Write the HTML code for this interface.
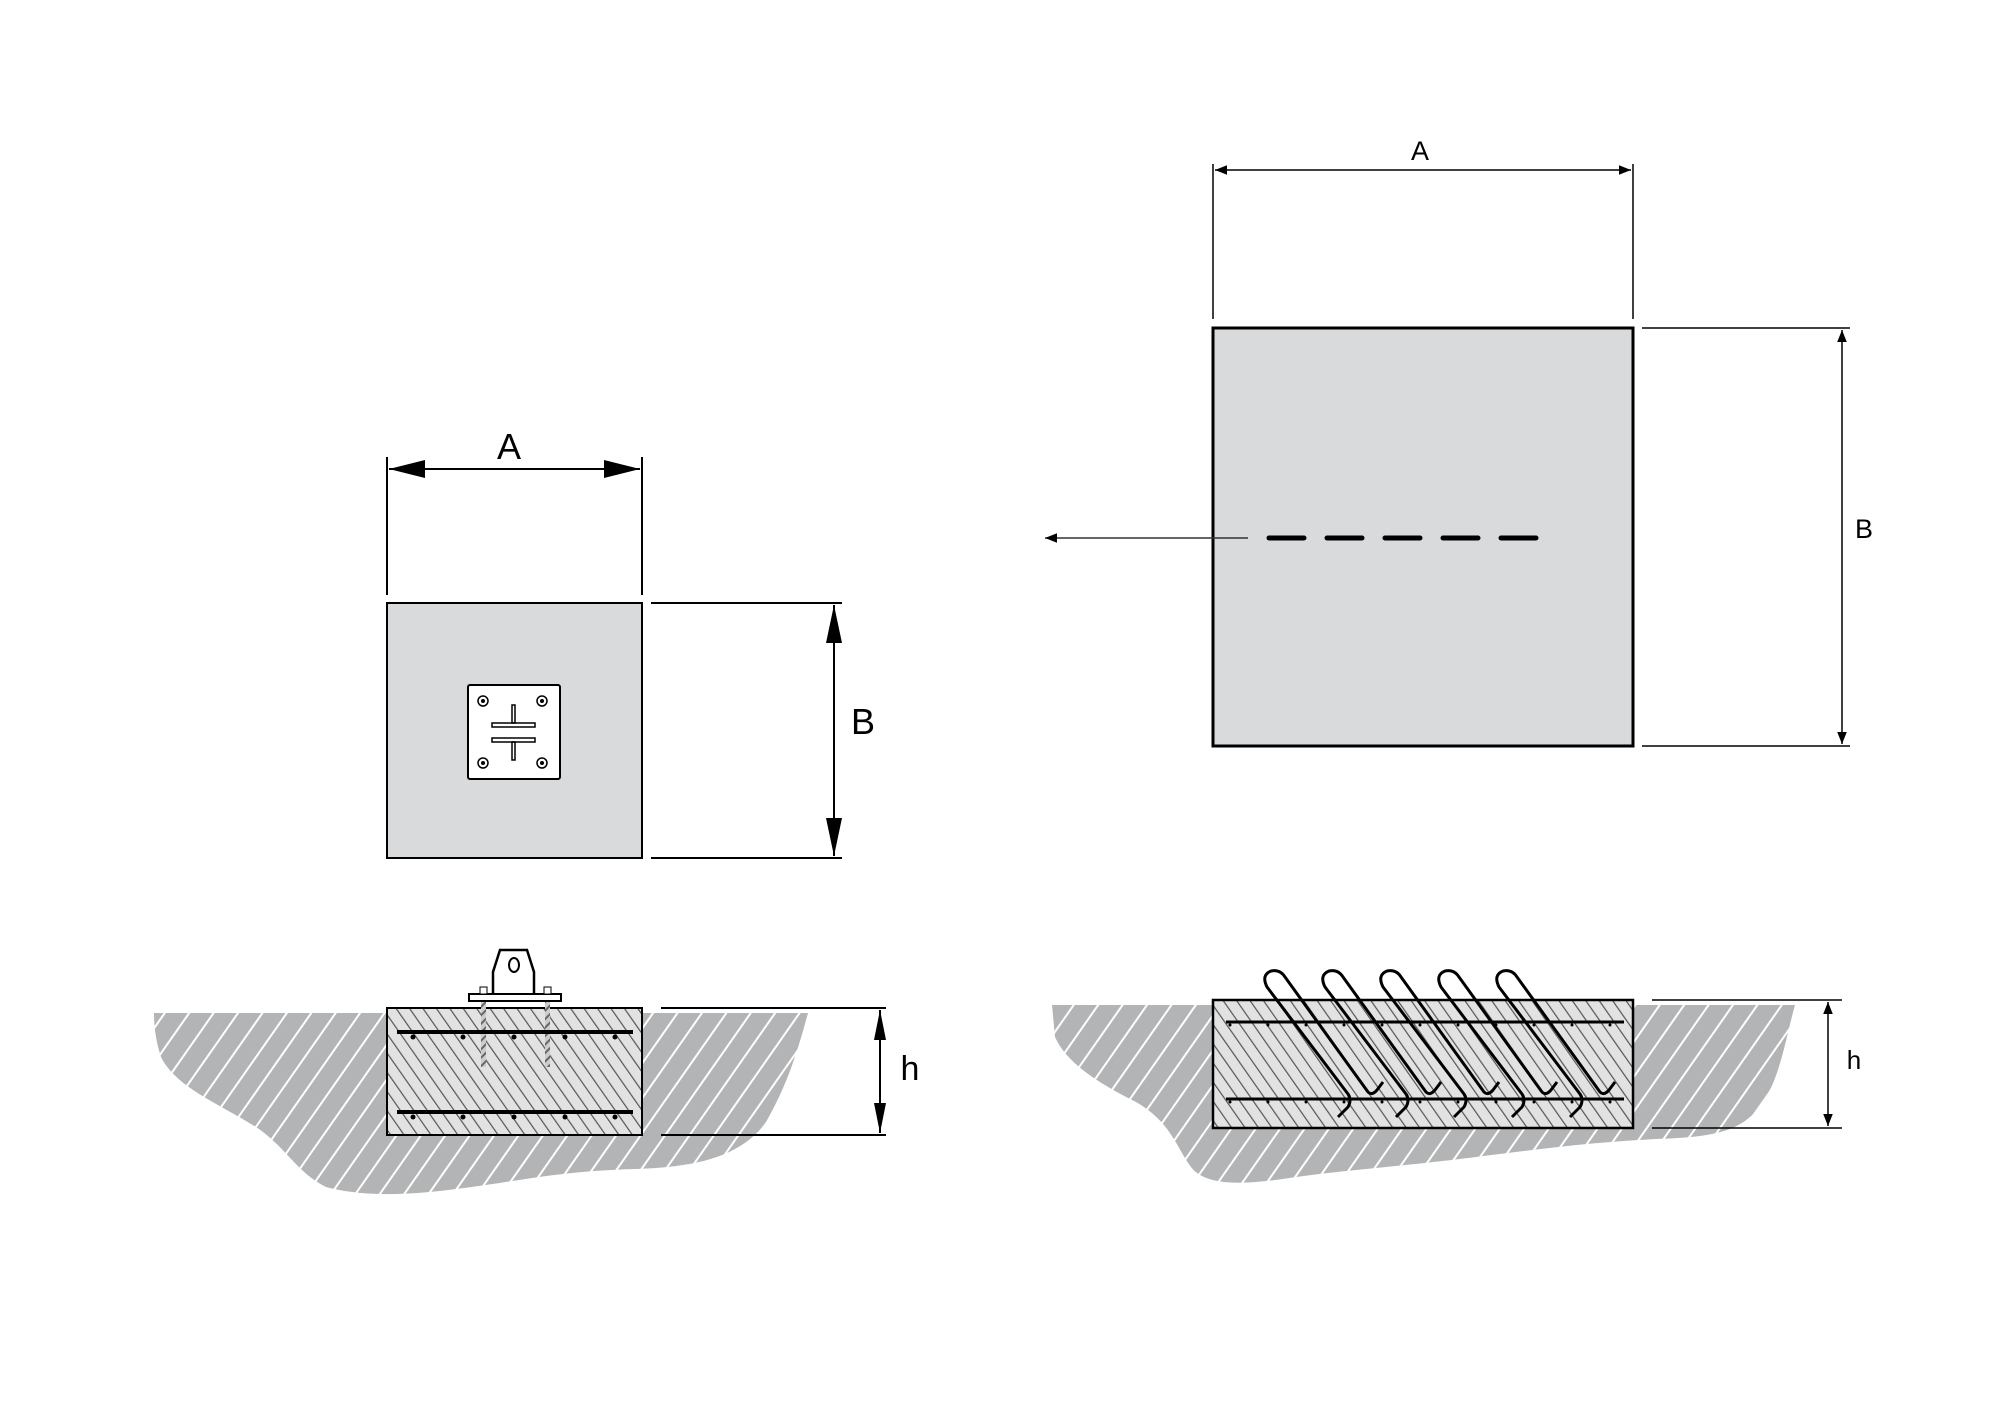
<!DOCTYPE html>
<html><head><meta charset="utf-8"><style>html,body{margin:0;padding:0;background:#fff}svg{display:block}</style></head>
<body>
<svg width="2000" height="1407" viewBox="0 0 2000 1407" xmlns="http://www.w3.org/2000/svg" font-family="Liberation Sans, sans-serif">
<defs>
<pattern id="gh" patternUnits="userSpaceOnUse" width="20" height="20" patternTransform="rotate(35)">
<rect width="20" height="20" fill="#b3b4b5"/><rect x="0" width="2" height="20" fill="#fff"/></pattern>
<pattern id="bh" patternUnits="userSpaceOnUse" width="11" height="11" patternTransform="rotate(-35)">
<rect width="11" height="11" fill="#e2e2e2"/><rect x="0" width="1.2" height="11" fill="#555"/></pattern>
<pattern id="bolt" patternUnits="userSpaceOnUse" width="6" height="6" patternTransform="rotate(45)">
<rect width="6" height="6" fill="#ccc"/><rect width="2" height="6" fill="#666"/></pattern>
<marker id="ar" viewBox="0 0 10 10" refX="10" refY="5" markerWidth="12" markerHeight="12" markerUnits="userSpaceOnUse" orient="auto-start-reverse"><path d="M0,1 L10,5 L0,9z" fill="#000"/></marker>
</defs>
<g transform="translate(-4,-3)">
<!-- Left top view -->
<rect x="391" y="606" width="255" height="255" fill="#d9dadc" stroke="#000" stroke-width="2"/>
<line x1="391" y1="460" x2="391" y2="598" stroke="#000" stroke-width="2"/>
<line x1="646" y1="460" x2="646" y2="598" stroke="#000" stroke-width="2"/>
<line x1="393" y1="472" x2="644" y2="472" stroke="#000" stroke-width="2"/>
<path d="M393,472 l36,-9 v18z M644,472 l-36,-9 v18z" fill="#000"/>
<text x="513" y="462" font-size="36" text-anchor="middle">A</text>
<line x1="655" y1="606" x2="846" y2="606" stroke="#000" stroke-width="2"/>
<line x1="655" y1="861" x2="846" y2="861" stroke="#000" stroke-width="2"/>
<line x1="838" y1="608" x2="838" y2="859" stroke="#000" stroke-width="2"/>
<path d="M838,608 l-8,38 h16z M838,859 l-8,-38 h16z" fill="#000"/>
<text x="867" y="737" font-size="36" text-anchor="middle">B</text>
<!-- plate -->
<g transform="translate(0,-16)">
<rect x="472" y="704" width="92" height="94" rx="2" fill="#fff" stroke="#000" stroke-width="2"/>
<g fill="none" stroke="#000" stroke-width="1.5">
<circle cx="487" cy="720" r="5"/><circle cx="546" cy="720" r="5"/><circle cx="487" cy="782" r="5"/><circle cx="546" cy="782" r="5"/>
<rect x="496" y="742" width="43" height="4"/><rect x="496" y="757" width="43" height="4"/>
<rect x="516" y="724" width="3" height="18"/><rect x="516" y="761" width="3" height="18"/>
</g>
<g fill="#000"><circle cx="487" cy="720" r="2"/><circle cx="546" cy="720" r="2"/><circle cx="487" cy="782" r="2"/><circle cx="546" cy="782" r="2"/></g>
</g>

<!-- Right top view -->
<rect x="1217" y="331" width="420" height="418" fill="#d9dadc" stroke="#000" stroke-width="3"/>
<line x1="1217" y1="167" x2="1217" y2="322" stroke="#000" stroke-width="1.5"/>
<line x1="1637" y1="167" x2="1637" y2="322" stroke="#000" stroke-width="1.5"/>
<line x1="1219" y1="173" x2="1635" y2="173" stroke="#000" stroke-width="1.5" marker-start="url(#ar)" marker-end="url(#ar)"/>
<text x="1424" y="163" font-size="27" text-anchor="middle">A</text>
<line x1="1646" y1="331" x2="1854" y2="331" stroke="#000" stroke-width="1.5"/>
<line x1="1646" y1="749" x2="1854" y2="749" stroke="#000" stroke-width="1.5"/>
<line x1="1846" y1="333" x2="1846" y2="747" stroke="#000" stroke-width="1.5" marker-start="url(#ar)" marker-end="url(#ar)"/>
<text x="1868" y="541" font-size="27" text-anchor="middle">B</text>
<line x1="1252" y1="541" x2="1049" y2="541" stroke="#333" stroke-width="1.5" marker-end="url(#ar)"/>
<line x1="1273" y1="541" x2="1542" y2="541" stroke="#000" stroke-width="5" stroke-dasharray="35 23" stroke-linecap="round"/>

<!-- Bottom left section -->
<path d="M158,1016 L812,1016 C800,1060 790,1090 770,1125 C745,1160 700,1170 640,1172 C560,1174 520,1185 460,1192 C400,1200 360,1198 330,1190 C300,1175 290,1150 260,1130 C220,1105 180,1090 165,1060 C160,1045 158,1030 158,1016Z" fill="url(#gh)"/>
<rect x="391" y="1011" width="255" height="127" fill="url(#bh)" stroke="#000" stroke-width="2"/>
<rect x="485" y="1003" width="5" height="67" fill="url(#bolt)"/>
<rect x="549" y="1003" width="5" height="67" fill="url(#bolt)"/>
<line x1="401" y1="1035" x2="637" y2="1035" stroke="#000" stroke-width="4"/>
<line x1="401" y1="1115" x2="637" y2="1115" stroke="#000" stroke-width="4"/>
<g fill="#000"><circle cx="417" cy="1040" r="2.5"/><circle cx="467" cy="1040" r="2.5"/><circle cx="518" cy="1040" r="2.5"/><circle cx="569" cy="1040" r="2.5"/><circle cx="619" cy="1040" r="2.5"/>
<circle cx="417" cy="1120" r="2.5"/><circle cx="467" cy="1120" r="2.5"/><circle cx="518" cy="1120" r="2.5"/><circle cx="569" cy="1120" r="2.5"/><circle cx="619" cy="1120" r="2.5"/></g>
<rect x="473" y="997" width="92" height="7" fill="#fff" stroke="#000" stroke-width="2"/>
<rect x="484" y="990" width="7" height="7" fill="#fff" stroke="#000" stroke-width="1"/>
<rect x="548" y="990" width="7" height="7" fill="#fff" stroke="#000" stroke-width="1"/>
<path d="M497,996 V975 L504,953 H531 L538,975 V996" fill="#fff" stroke="#000" stroke-width="2.5"/>
<ellipse cx="518" cy="968" rx="5" ry="7" fill="none" stroke="#000" stroke-width="2"/>
<line x1="665" y1="1011" x2="890" y2="1011" stroke="#000" stroke-width="2"/>
<line x1="665" y1="1138" x2="890" y2="1138" stroke="#000" stroke-width="2"/>
<line x1="884" y1="1013" x2="884" y2="1136" stroke="#000" stroke-width="2"/>
<path d="M884,1013 l-6,30 h12z M884,1136 l-6,-30 h12z" fill="#000"/>
<text x="914" y="1083" font-size="34" text-anchor="middle">h</text>

<!-- Bottom right section -->
<path d="M1056,1008 L1799,1008 C1790,1040 1785,1075 1770,1100 C1750,1135 1720,1140 1660,1142 C1600,1145 1560,1150 1480,1160 C1400,1170 1360,1172 1300,1180 C1250,1188 1210,1190 1195,1170 C1180,1150 1175,1125 1140,1105 C1100,1085 1070,1065 1059,1040Z" fill="url(#gh)"/>
<rect x="1217" y="1003" width="420" height="128" fill="url(#bh)" stroke="#000" stroke-width="2.5"/>
<line x1="1230" y1="1025" x2="1628" y2="1025" stroke="#000" stroke-width="3"/>
<line x1="1230" y1="1102" x2="1628" y2="1102" stroke="#000" stroke-width="3"/>
<g fill="#000">
<circle cx="1234" cy="1028" r="1.5"/><circle cx="1272" cy="1028" r="1.5"/><circle cx="1310" cy="1028" r="1.5"/><circle cx="1348" cy="1028" r="1.5"/><circle cx="1386" cy="1028" r="1.5"/><circle cx="1424" cy="1028" r="1.5"/><circle cx="1462" cy="1028" r="1.5"/><circle cx="1500" cy="1028" r="1.5"/><circle cx="1538" cy="1028" r="1.5"/><circle cx="1576" cy="1028" r="1.5"/><circle cx="1614" cy="1028" r="1.5"/>
<circle cx="1234" cy="1105" r="1.5"/><circle cx="1272" cy="1105" r="1.5"/><circle cx="1310" cy="1105" r="1.5"/><circle cx="1348" cy="1105" r="1.5"/><circle cx="1386" cy="1105" r="1.5"/><circle cx="1424" cy="1105" r="1.5"/><circle cx="1462" cy="1105" r="1.5"/><circle cx="1500" cy="1105" r="1.5"/><circle cx="1538" cy="1105" r="1.5"/><circle cx="1576" cy="1105" r="1.5"/><circle cx="1614" cy="1105" r="1.5"/>
</g>
<g id="loop" fill="none" stroke="#000" stroke-width="3" stroke-linejoin="round">
<path d="M1342,1120 L1352,1110 Q1356,1103 1352,1097 L1271,990 Q1265,978 1275,974 Q1284,972 1289,980 L1372,1095 Q1376,1099 1381,1093 L1387,1085"/>
</g>
<use href="#loop" x="58"/><use href="#loop" x="116"/><use href="#loop" x="174"/><use href="#loop" x="232"/>
<line x1="1656" y1="1003" x2="1846" y2="1003" stroke="#000" stroke-width="1.5"/>
<line x1="1656" y1="1131" x2="1846" y2="1131" stroke="#000" stroke-width="1.5"/>
<line x1="1832" y1="1005" x2="1832" y2="1129" stroke="#000" stroke-width="1.5" marker-start="url(#ar)" marker-end="url(#ar)"/>
<text x="1858" y="1072" font-size="26" text-anchor="middle">h</text>
</g>
</svg>
</body></html>
